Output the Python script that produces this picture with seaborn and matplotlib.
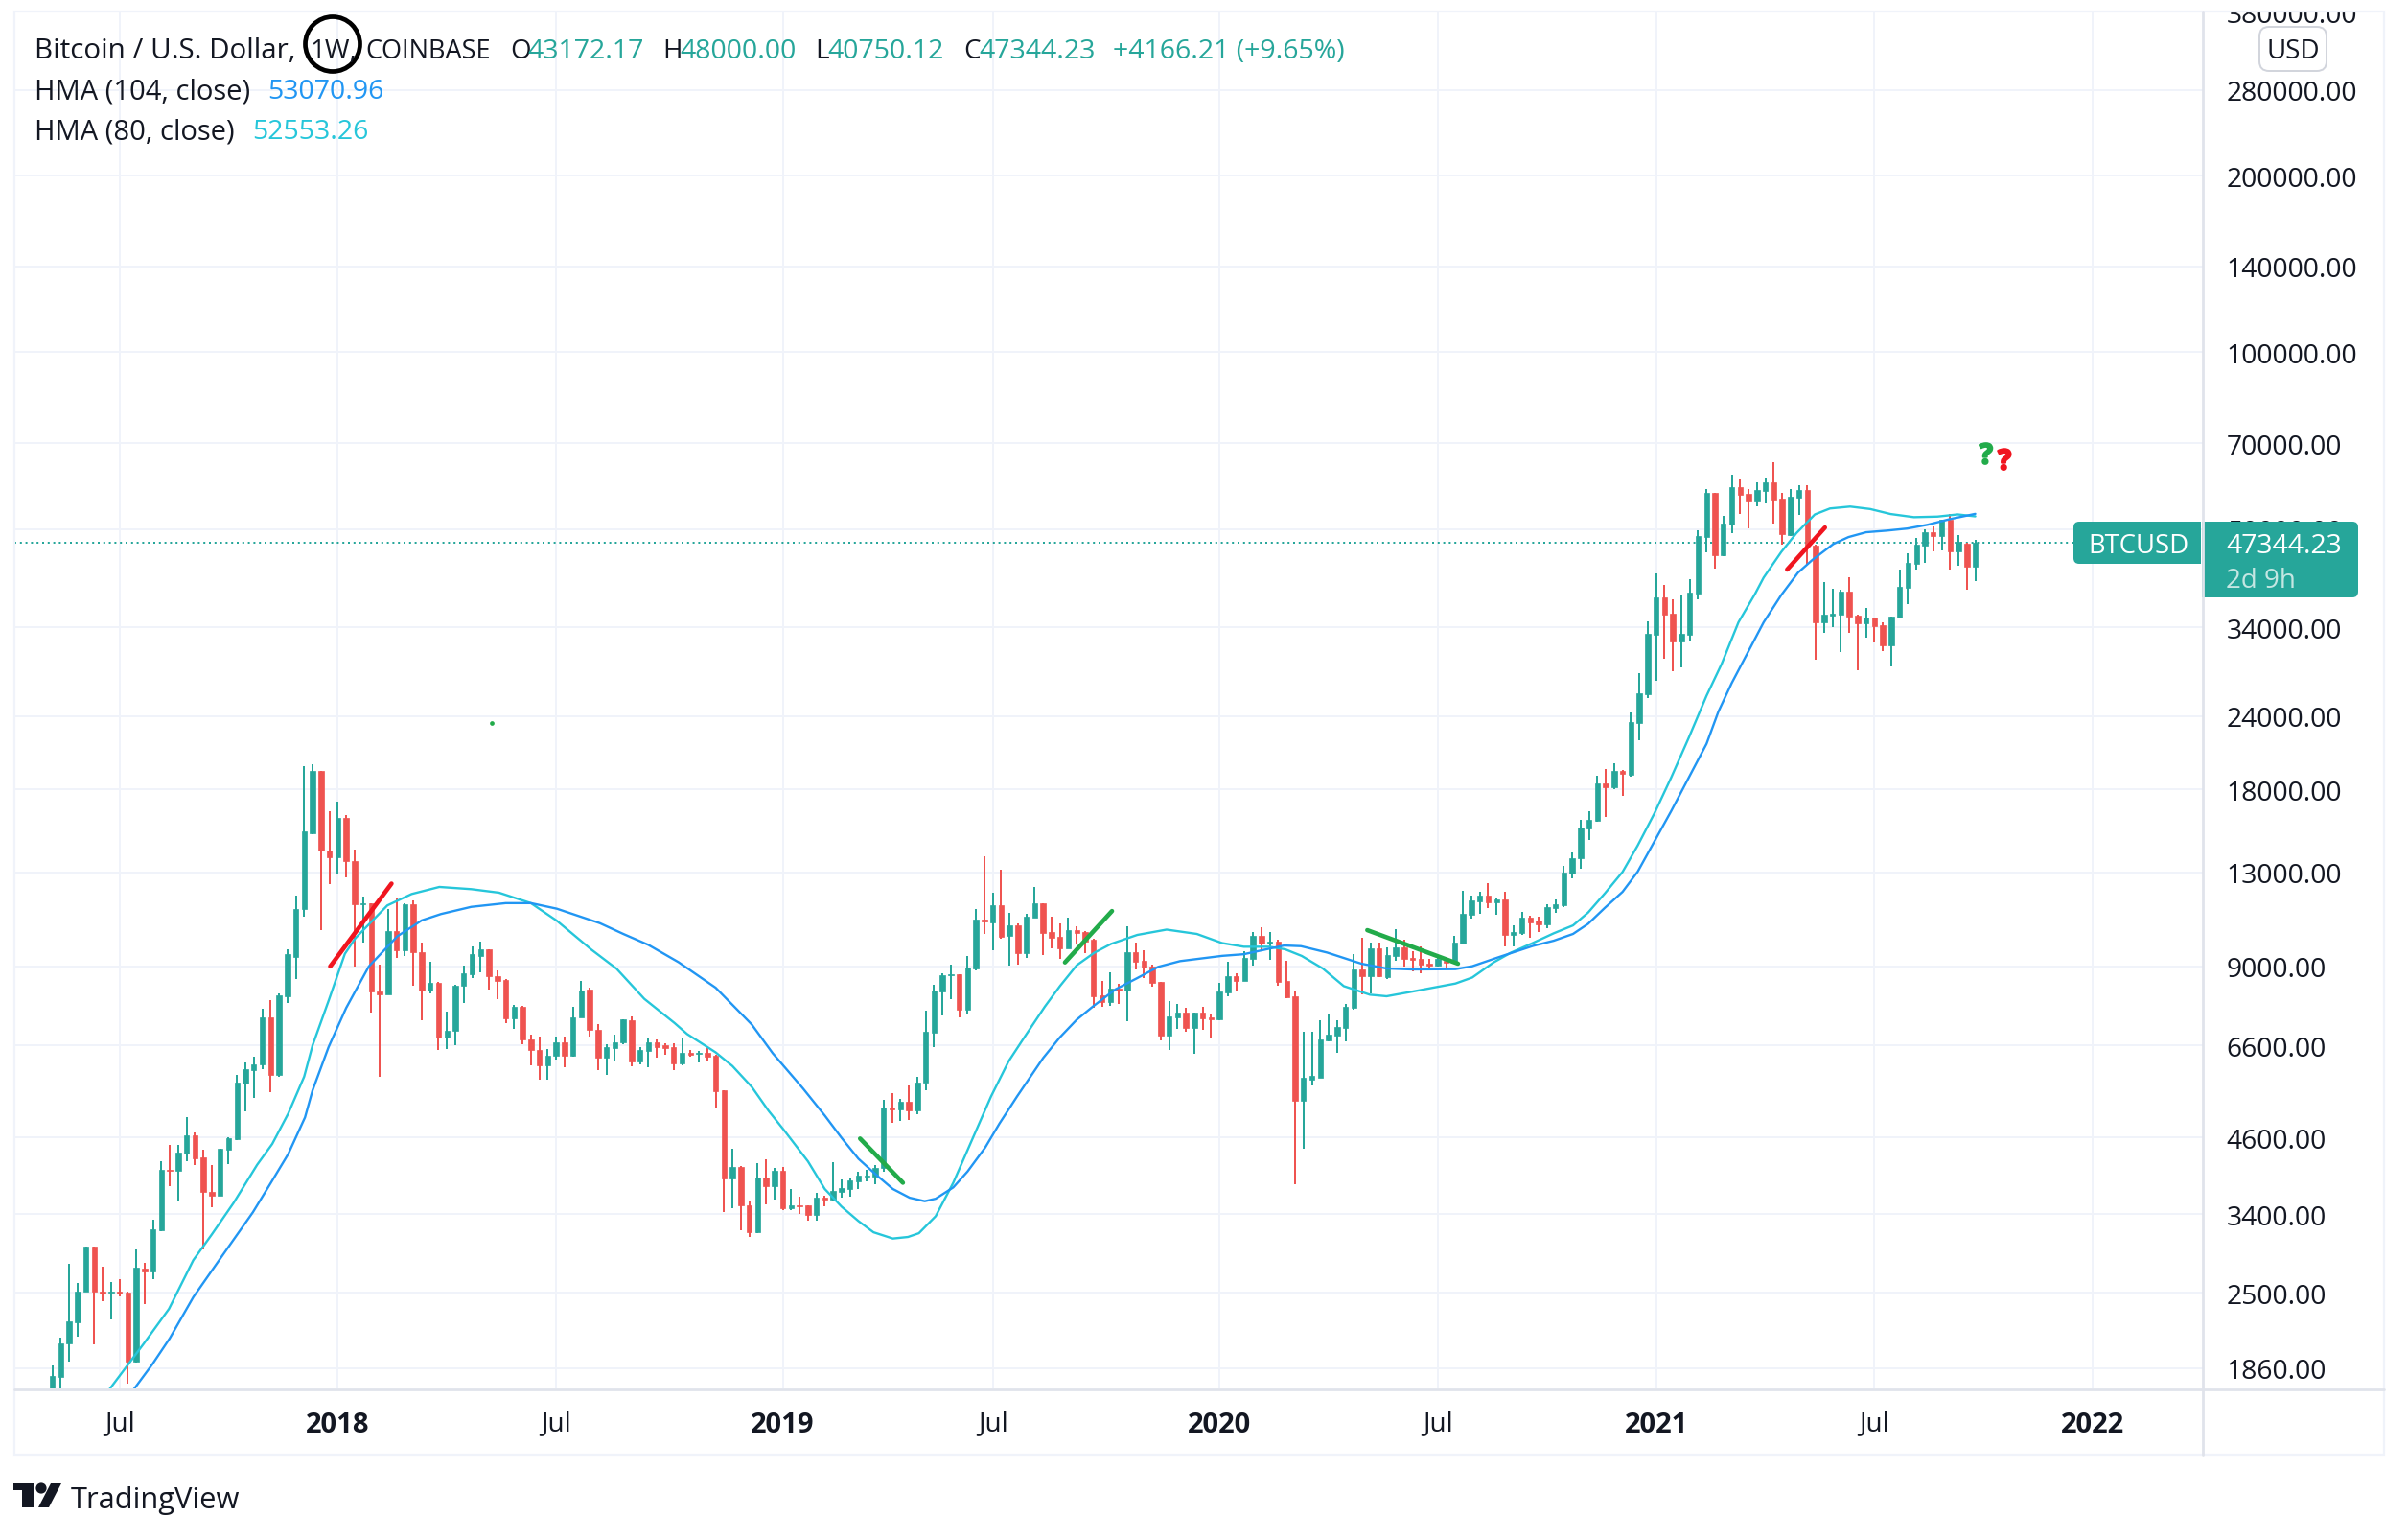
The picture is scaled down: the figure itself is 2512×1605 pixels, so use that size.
import matplotlib
matplotlib.use("Agg")
import matplotlib.pyplot as plt
import matplotlib.patheffects as pe
from matplotlib.patches import Rectangle, FancyBboxPatch, Ellipse, Polygon, Circle
import seaborn as sns

# Weekly BTCUSD candles
opens = [1700,1799,2052,2224,2512,2992,2516,2498,2516,2507,
 1907,2751,2717,3195,4054,4031,4323,4634,4246,3715,
 3661,4385,4567,5683,5992,6124,7376,5870,8007,9346,
 11256,15179,19337,14159,13807,16116,13606,11465,11528,8152,
 8065,10333,9590,11465,9520,8181,8435,6806,6977,8325,
 8738,9363,9607,8658,8532,7336,7686,6757,6490,6113,
 6335,6684,6324,7362,8210,7004,6279,6534,6672,7279,
 6203,6454,6677,6603,6553,6147,6414,6373,6398,6341,
 5532,3914,4098,3523,3166,3929,3803,4029,3483,3523,
 3518,3397,3630,3602,3714,3761,3875,3944,3949,4074,
 5170,5138,5287,5113,5694,6934,8158,8698,8720,7597,
 8910,10808,10700,11435,10138,10562,9475,10903,11523,10292,
 10112,9653,10368,10292,9990,8030,7830,8241,8178,9505,
 9193,8990,8463,6857,7364,7503,7065,7503,7364,7300,
 8120,8652,8510,9263,10138,9825,9930,8497,7998,5308,
 5767,5810,6727,6857,7075,7645,8888,8652,9637,8620,
 9365,9705,9296,9263,9090,9023,9203,9124,9850,11010,
 11610,11870,11565,11690,10175,10253,10889,10765,10600,11305,
 11435,12940,13754,15446,15913,18430,18148,19348,19070,23350,
 26150,33027,38238,35874,32159,33027,38816,48476,57635,45132,
 50906,58950,57420,55770,58070,60100,56350,48840,56640,58290,
 46900,34680,35610,35740,39110,35610,34550,35340,34290,31680,
 35340,39710,43600,46870,49380,48656,51868,45810,47220,43172.17]
highs = [1881,2096,2805,2595,2992,2992,2775,2605,2634,2512,
 2960,2816,3336,4192,4458,4458,4975,4685,4377,4123,
 4392,4600,5870,6180,6301,7628,7890,8079,9607,11884,
 19700,19844,19372,16505,17141,16270,14234,11842,11528,9073,
 11277,11758,11507,11633,9869,9152,8467,7522,8371,9025,
 9730,9904,9607,8850,8563,7744,7700,6878,6818,6502,
 6830,6818,7686,8483,8268,7163,6636,6878,7322,7391,
 6553,6793,6751,6644,6652,6782,6471,6463,6521,6357,
 5539,4399,4108,3576,4151,4220,4074,4089,3756,3644,
 3523,3695,3663,4172,3900,3919,4019,4049,4125,5320,
 5470,5347,5635,5825,7560,8358,8743,9056,8730,9365,
 11260,13840,12005,13126,11095,10630,11053,12282,11523,10930,
 10643,10889,10520,10317,10010,8497,8790,8400,10520,9890,
 9582,9056,8463,7850,7760,7645,7503,7680,7476,8430,
 9160,8755,9530,10300,10490,10292,9990,9193,8160,6960,
 6960,7279,7448,7279,7760,9440,10066,9890,9890,9705,
 10400,9990,9545,9745,9263,9320,9263,10138,12100,11870,
 12050,12470,11780,12050,10562,11135,10970,10930,11478,11690,
 13340,14065,15987,16530,18995,19498,19950,19420,24350,28405,
 34810,42017,40163,37955,38516,41060,49740,58500,57635,52628,
 61905,60750,58500,60100,61210,65000,57635,58500,59450,59450,
 47050,40560,39560,39410,41380,35740,36700,35340,34680,35470,
 42720,45470,48290,49970,50550,51868,53040,48840,47340,48000]
lows = [1650,1700,1907,2104,2512,2044,2423,2252,2467,1749,
 1900,2392,2639,3178,3799,3571,4192,4123,2965,3501,
 3661,4146,4550,5095,5369,6014,5490,5826,7788,8563,
 10925,15124,10372,12444,12904,12744,8993,9887,7495,5837,
 8065,9293,9368,8327,7270,8079,6478,6502,6599,7788,
 8595,8802,8210,7905,7203,7044,6636,6113,5759,5759,
 6246,6047,6312,7362,6842,5982,5870,6202,6636,6085,
 6124,6054,6287,6357,5988,6100,6318,6170,6217,5151,
 3431,3483,3193,3112,3158,3536,3602,3457,3453,3405,
 3313,3313,3514,3589,3634,3644,3756,3865,3827,4019,
 4868,4904,4922,5036,5539,6553,7420,7910,7364,7476,
 8855,10215,9582,10025,9023,9056,9296,10903,9400,9653,
 9263,9653,9785,9490,7645,7680,7716,7760,7255,8888,
 8590,8303,6735,6480,7040,6960,6380,7013,6810,7279,
 7998,8150,8497,9023,9545,9226,8340,7939,3827,4399,
 5635,5810,6710,6406,6710,7590,8050,8080,8620,8555,
 9193,8990,8820,8755,8855,8990,8955,9090,9850,10850,
 11053,11305,11010,9745,9745,10175,10066,10292,10440,11095,
 11348,12700,13197,14764,15855,16155,18018,17554,18925,21827,
 25764,27569,30052,28624,29062,32300,37955,45643,42815,44962,
 49193,53040,50136,54680,55280,51098,47100,48656,52830,43460,
 30000,33280,34060,30860,33280,28730,32660,32040,30981,29170,
 35210,37250,42650,43780,45880,46045,42650,43290,39410,40750.12]
closes = [1802,2052,2232,2516,2992,2512,2494,2516,2494,1911,
 2756,2722,3213,4054,4031,4338,4634,4231,3715,3661,
 4392,4593,5692,6003,6135,7376,5881,8036,9451,11277,
 15262,19337,14159,13807,16116,13606,11486,11528,8152,8065,
 10333,9590,11465,9520,8181,8435,6806,6977,8340,8754,
 9451,9607,8642,8483,7336,7686,6757,6490,6113,6335,
 6684,6335,7376,8181,7004,6290,6551,6684,7296,6203,
 6479,6677,6553,6537,6147,6398,6365,6414,6310,5511,
 3914,4094,3518,3175,3929,3803,4029,3483,3523,3514,
 3388,3630,3598,3723,3770,3884,3959,3959,4074,5170,
 5138,5287,5113,5707,6960,8178,8677,8730,7597,8955,
 10808,10713,11435,10100,10562,9475,10930,11523,10253,10066,
 9653,10368,10253,9930,7998,7830,8241,8178,9505,9160,
 8955,8430,6857,7391,7503,7065,7503,7345,7310,8150,
 8652,8510,9296,10138,9825,9930,8463,7969,5308,5810,
 5854,6751,6883,7100,7680,8888,8652,9637,8652,9400,
 9705,9263,9226,9056,9034,9263,9124,9890,11053,11650,
 11870,11565,11690,10175,10292,10889,10680,10600,11348,11478,
 13000,13740,15514,15972,18430,18148,19348,19136,23443,26248,
 33151,38238,35738,32159,33151,38965,48656,57635,45132,51098,
 58950,57200,55770,58290,60100,56200,49030,56780,58290,46900,
 34680,35740,35870,39110,35470,34550,35340,34170,31680,35470,
 39860,43780,47040,49380,48656,51868,45810,47570,43178,47344.23]

hma104_x = [9.7,11.9,14,16.8,20,23.9,26,28.1,30.1,31,32.9,35,37.7,41.1,44,46.3,49.9,54,57,60.1,65.2,68,71,74.6,79,83.3,85.8,89.4,92,94,96,98.1,100.1,102.1,103.9,105.2,107.3,109,111.1,112.8,114.9,118,120,122,124.1,126.6,129.2,131.7,134.3,139.3,141.9,144.9,146.7,148.7,151.8,155.9,158.9,162,167.1,169.1,172.2,176.3,178.8,181.1,182.9,184.9,187,188.8,190.8,192.8,194.8,197,198.4,200,201.8,203.8,205.9,207.9,209.6,212.1,213.9,216,218.5,220.9,223.3,225.9,229]
hma104_y = [1711,1887,2092,2458,2858,3430,3841,4308,4975,5531,6551,7641,8993,10123,10773,11046,11360,11528,11528,11277,10658,10215,9785,9140,8273,7162,6397,5573,5010,4590,4230,3974,3757,3630,3581,3616,3780,4024,4420,4856,5402,6279,6811,7298,7720,8217,8590,8978,9182,9373,9434,9640,9762,9737,9497,9090,8921,8888,8899,9000,9320,9745,9947,10215,10630,11320,12050,13040,14690,16549,18760,21535,24410,27329,30590,34680,38600,42150,44290,47150,48450,49380,49700,50100,50840,51950,53070.96]
hma80_x = [6.8,10.9,13.9,16.8,19,21.6,24.4,26.2,28.1,30,31,32.95,34.85,36.1,39.9,42.8,46.1,49.9,53.2,57,60.1,64.2,67.2,70.5,74.1,75.6,79,81,83.3,85.3,87.1,90,92,94,96,97.8,100.1,101.9,103.2,105.2,107.3,109.3,111.8,113.9,115.9,118.2,120,122,124.1,126.1,129.2,132.7,136.3,139.3,141.9,144.9,146.8,148.8,151.3,153.8,156.9,158.9,162,167.1,169.1,171.7,173.7,176.3,178.8,181.1,182.9,184.9,187,188.8,190.8,192.8,194.9,197,198.8,200.8,202.8,203.8,205.9,207.7,209.9,211.7,214.1,216.5,218.9,221.7,224.5,226.9,229]
hma80_y = [1711,2048,2347,2842,3143,3558,4131,4483,5049,5837,6599,7890,9451,10046,11423,11947,12283,12177,12010,11528,10754,9607,8913,7920,7204,6899,6420,6085,5607,5106,4740,4185,3756,3505,3313,3170,3093,3112,3158,3376,3850,4476,5402,6203,6857,7680,8325,9034,9490,9825,10175,10390,10215,9857,9715,9715,9620,9370,8921,8325,8050,8000,8150,8410,8610,9147,9490,9857,10240,10562,11110,11980,13028,14448,16400,18877,22080,26000,29462,34680,38820,41330,45700,49200,52950,54200,54610,54080,53040,52380,52500,52950,52553.26]

# Hand-drawn trend strokes: (x start, x end), (price start, price end)
red_strokes = [((33.1, 40.4), (8993, 12444)), ((206.6, 211.1), (42650, 50300))]
green_strokes = [((96.2, 101.3), (4578, 3850)), ((120.6, 126.2), (9136, 11175)), ((156.6, 167.4), (10368, 9090))]

price_ticks = [1860,2500,3400,4600,6600,9000,13000,18000,24000,34000,50000,70000,100000,140000,200000,280000,380000]
time_ticks = [8,34,60,87,112,139,165,191,217,243]
time_labels = ['Jul','2018','Jul','2019','Jul','2020','Jul','2021','Jul','2022']

UP, DOWN = '#26a69a', '#ef5350'
INK = '#131722'
GRID = '#f0f3fa'
AXIS = '#e0e3eb'

sns.set_style('white')
plt.rcParams['font.family'] = ['Open Sans', 'DejaVu Sans']
W, H = 2512, 1606
fig = plt.figure(figsize=(W/100, H/100), dpi=100, facecolor='white')
L, R, T, B = 15, 2297.7, 12.7, 1449.3
ax = fig.add_axes([L/W, 1-B/H, (R-L)/W, (B-T)/H])
ax.set_yscale('log')

xs = list(range(len(opens)))
cols = [UP if c >= o else DOWN for o, c in zip(opens, closes)]
ax.vlines(xs, lows, highs, colors=cols, linewidth=1.44, zorder=3)
ax.bar(xs, [abs(c-o) for o, c in zip(opens, closes)], bottom=[min(o, c) for o, c in zip(opens, closes)],
       width=0.62, color=cols, edgecolor=cols, linewidth=0.5, zorder=3)

ax.axhline(closes[-1], xmin=0, xmax=(2163-L)/(R-L), color=UP, lw=1.44, ls=(0, (1, 1.9)), zorder=2)

sns.lineplot(x=hma80_x, y=hma80_y, ax=ax, color='#26c6da', linewidth=1.7, zorder=4, errorbar=None)
sns.lineplot(x=hma104_x, y=hma104_y, ax=ax, color='#2196f3', linewidth=1.7, zorder=4, errorbar=None)

for xx, yy in red_strokes:
    ax.plot(xx, yy, color='#f0151f', lw=3.3, solid_capstyle='round', zorder=5)
for xx, yy in green_strokes:
    ax.plot(xx, yy, color='#22ab4a', lw=3.3, solid_capstyle='round', zorder=5)

ax.plot([52.3], [23370], 'o', color='#22ab4a', ms=3.4, mew=0, zorder=5)
ax.text(230.3, 66500, '?', color='#22ab4a', fontsize=21, fontweight='bold', ha='center', va='center', zorder=6,
        path_effects=[pe.withStroke(linewidth=1.6, foreground='#22ab4a')])
ax.text(232.5, 65000, '?', color='#f0151f', fontsize=21, fontweight='bold', ha='center', va='center', zorder=6,
        path_effects=[pe.withStroke(linewidth=1.6, foreground='#f0151f')])

ax.set_xlim(-4.51, 256.07)
ax.set_ylim(1716, 381100)
ax.set_yticks(price_ticks)
ax.set_yticklabels([f'{p:.2f}' for p in price_ticks])
ax.minorticks_off()
ax.set_xticks(time_ticks)
ax.set_xticklabels(time_labels)
ax.yaxis.tick_right()
ax.tick_params(axis='y', length=0, pad=18, labelsize=20.3, labelcolor=INK)
ax.tick_params(axis='x', length=0, pad=16, labelsize=20, labelcolor=INK)
for lab in ax.get_xticklabels():
    if lab.get_text().isdigit():
        lab.set_fontweight('bold')
        lab.set_fontsize(21)
ax.grid(True, which='major', color=GRID, linewidth=1.44)
ax.set_axisbelow(True)
for s in ax.spines.values():
    s.set_visible(False)

# Chrome overlay in pixel coordinates
ov = fig.add_axes([0, 0, 1, 1], zorder=10)
ov.set_xlim(0, W)
ov.set_ylim(H, 0)
ov.axis('off')
ov.add_patch(Rectangle((0, 0), W, 12, facecolor='white', edgecolor='none'))
ov.add_patch(Rectangle((15, 13), 2487-15, 1518-13, fill=False, edgecolor=GRID, linewidth=1.6))
ov.plot([2298, 2298], [13, 1518], color=AXIS, lw=2)
ov.plot([15, 2487], [1449.5, 1449.5], color=AXIS, lw=2)

def label(x, y, s, color=INK, size=20, **kw):
    ov.text(x, y, s, color=color, fontsize=size, va='baseline', ha=kw.pop('ha', 'left'), **kw)

label(36, 61, 'Bitcoin / U.S. Dollar,', size=21.3)
label(323, 61, '1W,')
label(381, 61, 'COINBASE', size=19.5)
label(532, 61, 'O')
label(550, 61, '43172.17', UP, size=20.5)
label(691, 61, 'H')
label(709, 61, '48000.00', UP, size=20.5)
label(850, 61, 'L')
label(863, 61, '40750.12', UP, size=20.5)
label(1005, 61, 'C')
label(1021, 61, '47344.23', UP, size=20.5)
label(1161, 61, '+4166.21 (+9.65%)', UP, size=20.5)
label(36, 103, 'HMA (104, close)', size=21)
label(279, 103, '53070.96', '#2196f3', size=20.5)
label(36, 145, 'HMA (80, close)', size=21)
label(263, 145, '52553.26', '#26c6da', size=20.5)
ov.add_patch(Ellipse((347, 47), 57, 57, fill=False, edgecolor='black', linewidth=3.4))

# Symbol and price flags
ov.add_patch(FancyBboxPatch((2167, 549), 125, 36, boxstyle='round,pad=4,rounding_size=6', facecolor=UP, edgecolor='none'))
ov.add_patch(Rectangle((2284, 545), 12, 44, facecolor=UP, edgecolor='none'))
ov.add_patch(FancyBboxPatch((2301, 549), 155, 71, boxstyle='round,pad=4,rounding_size=6', facecolor=UP, edgecolor='none'))
ov.add_patch(Rectangle((2297, 545), 12, 79, facecolor=UP, edgecolor='none'))
label(2178, 577, 'BTCUSD', 'white', size=19.8)
label(2322, 577, '47344.23', 'white', size=20.4)
label(2322, 613, '2d 9h', '#c4e6e2')

# Currency button
ov.add_patch(FancyBboxPatch((2363, 35), 58, 34, boxstyle='round,pad=6,rounding_size=10', facecolor='white', edgecolor='#d1d4dc', linewidth=1.4))
label(2392, 61, 'USD', ha='center')

# TradingView logo
ov.add_patch(Polygon([(14, 1548), (35, 1548), (35, 1573), (23, 1573), (23, 1555), (14, 1555)], facecolor=INK, edgecolor='none'))
ov.add_patch(Circle((43, 1553), 5.6, facecolor=INK, edgecolor='none'))
ov.add_patch(Polygon([(53, 1548), (64, 1548), (51, 1573), (40, 1573)], facecolor=INK, edgecolor='none'))
label(74, 1573, 'TradingView', size=22.2)

fig.savefig('out.png', dpi=100, facecolor='white')
